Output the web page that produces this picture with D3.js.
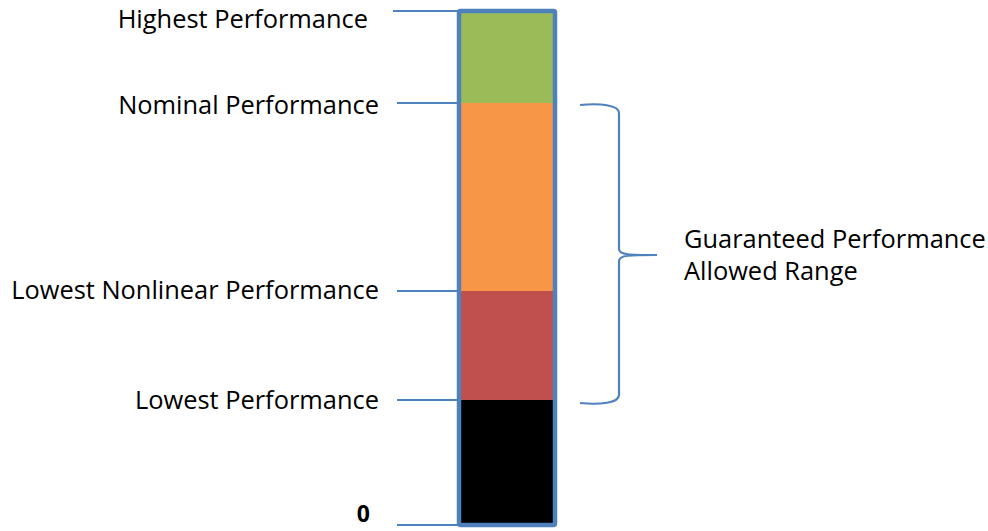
<!DOCTYPE html>
<html>
<head>
<meta charset="utf-8">
<script src="https://cdn.jsdelivr.net/npm/d3@7"></script>
<style>
  body { margin: 0; background: #fff; }
  svg { display: block; }
  .label { font-family: "Open Sans", sans-serif; font-size: 22px; fill: #000; }
</style>
</head>
<body>
<svg id="chart" width="988" height="531"></svg>
<script>
// performance levels (arbitrary units, 0 at the bottom)
const levelNames = ['0', 'Lowest Performance', 'Lowest Nonlinear Performance', 'Nominal Performance', 'Highest Performance'];
const levelValues = [0, 125, 234, 422, 514];
const bandColors = ['#000000', '#c0504d', '#f79646', '#9bbb59'];
const braceText = ['Guaranteed Performance', 'Allowed Range'];

const svg = d3.select('#chart');
const blue = '#4f81bd';

const y = d3.scaleLinear().domain([0, 514]).range([525, 11]);
const barX0 = 459, barX1 = 555;

// coloured bands between consecutive levels
const bands = d3.pairs(levelValues);
svg.selectAll('rect.band')
  .data(bands)
  .enter()
  .append('rect')
  .attr('class', 'band')
  .attr('x', barX0)
  .attr('y', d => y(d[1]))
  .attr('width', barX1 - barX0)
  .attr('height', d => y(d[0]) - y(d[1]))
  .attr('fill', (d, i) => bandColors[i]);

// leader lines for each level
svg.selectAll('line.leader')
  .data(levelValues)
  .enter()
  .append('line')
  .attr('class', 'leader')
  .attr('x1', (d, i) => i === 4 ? 393 : 397)
  .attr('x2', barX0)
  .attr('y1', d => y(d))
  .attr('y2', d => y(d))
  .attr('stroke', blue)
  .attr('stroke-width', 2);

// bar outline
svg.append('rect')
  .attr('x', barX0)
  .attr('y', y(514))
  .attr('width', barX1 - barX0)
  .attr('height', y(0) - y(514))
  .attr('fill', 'none')
  .attr('stroke', blue)
  .attr('stroke-width', 4.5)
  .attr('rx', 1.5);

// level labels (baseline offsets from the level line, as in the picture)
const baseOffset = [-3, 9, 8, 11, 17];
const labels = svg.selectAll('text.label')
  .data(levelNames)
  .enter()
  .append('text')
  .attr('class', 'label')
  .attr('x', (d, i) => i === 0 ? 370 : (i === 4 ? 368 : 379))
  .attr('y', (d, i) => y(levelValues[i]) + baseOffset[i])
  .attr('text-anchor', 'end')
  .style('font-weight', (d, i) => i === 0 ? 'bold' : 'normal')
  .text(d => d);

// fit the font size so the longest label spans like the reference
const longest = labels.filter((d, i) => i === 2).node().getComputedTextLength();
const fs = 22 * 368 / longest;
labels.style('font-size', (d, i) => i === 0 ? '23px' : fs + 'px');

// curly brace from Nominal down to Lowest
const yTop = y(levelValues[3]) + 2, yBot = y(levelValues[1]) + 3;
const yMid = (yTop + yBot) / 2 + 1;
const bx = 619, ex = 580, tip = 657;
const brace = d3.path();
brace.moveTo(ex, yTop);
brace.bezierCurveTo(600, yTop - 2, bx, yTop, bx, yTop + 8);
brace.lineTo(bx, yMid - 6);
brace.bezierCurveTo(bx, yMid, 630, yMid, tip, yMid);
brace.bezierCurveTo(630, yMid, bx, yMid, bx, yMid + 6);
brace.lineTo(bx, yBot - 8);
brace.bezierCurveTo(bx, yBot, 600, yBot + 2, ex, yBot);
svg.append('path')
  .attr('d', brace.toString())
  .attr('fill', 'none')
  .attr('stroke', blue)
  .attr('stroke-width', 2.2);

svg.selectAll('text.brace')
  .data(braceText)
  .enter()
  .append('text')
  .attr('class', 'label brace')
  .attr('x', 684)
  .attr('y', (d, i) => 248 + i * 32)
  .style('font-size', fs + 'px')
  .text(d => d);
</script>
</body>
</html>
